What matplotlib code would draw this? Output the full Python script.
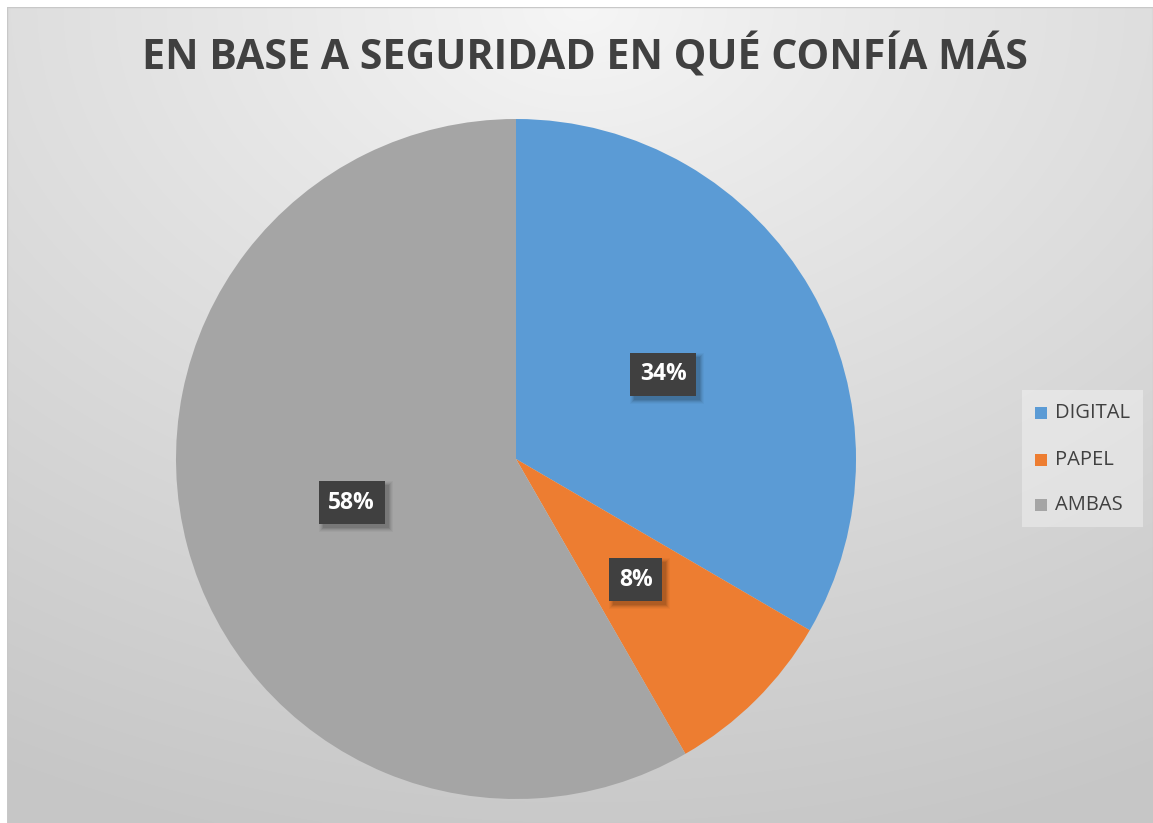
import numpy as np
import matplotlib
matplotlib.use("Agg")
import matplotlib.pyplot as plt
from matplotlib.patches import Rectangle

categories = ["DIGITAL", "PAPEL", "AMBAS"]
values = [33.4, 8.3, 58.3]
pct_labels = ["34%", "8%", "58%"]
colors = ["#5b9bd5", "#ed7d31", "#a5a5a5"]
title = "EN BASE A SEGURIDAD EN QUÉ CONFÍA MÁS"

W, H = 1153, 823
fig = plt.figure(figsize=(W / 100, H / 100), dpi=100)
fig.patch.set_facecolor("white")

# background with radial gradient
bg = fig.add_axes([7 / W, 0, (W - 7) / W, (H - 7) / H])
bg.set_axis_off()
yy, xx = np.mgrid[0:400, 0:560]
cx, cy = 280, 0
d = np.sqrt(((xx - cx) / 560.0) ** 2 + ((yy - cy) / 400.0) ** 2)
d = np.clip(d / 1.05, 0, 1)
val = 0.965 - (0.965 - 0.78) * d ** 0.9
img = np.dstack([val, val, val])
bg.imshow(img, extent=[0, 1, 0, 1], origin="upper", aspect="auto", interpolation="bilinear")
bg.set_xlim(0, 1)
bg.set_ylim(0, 1)
bg.add_patch(Rectangle((0, 0), 1, 1, fill=False, edgecolor="#c8c8c8", lw=1.0,
                       transform=bg.transAxes))

# pie
cxp, cyp, r = 516, 459, 340
ax = fig.add_axes([(cxp - r) / W, (H - cyp - r) / H, 2 * r / W, 2 * r / H])
ax.set_axis_off()
wedges, _ = ax.pie(values, colors=colors, startangle=90, counterclock=False,
                   radius=1.0, wedgeprops=dict(linewidth=0))
ax.set_xlim(-1, 1)
ax.set_ylim(-1, 1)
ax.set_aspect("auto")

texts = []
for w, lab in zip(wedges, pct_labels):
    ang = np.deg2rad((w.theta1 + w.theta2) / 2)
    x, y = 0.5 * np.cos(ang), 0.5 * np.sin(ang)
    t = ax.text(x, y, lab, ha="center", va="center", fontsize=16.5, fontweight="bold",
                family="Open Sans", color="white", zorder=5,
                bbox=dict(boxstyle="square,pad=0.42", fc="#404040", ec="none"))
    texts.append(t)

fig.canvas.draw()
renderer = fig.canvas.get_renderer()
for t in texts:
    bb = t.get_bbox_patch().get_window_extent(renderer)
    for k, a in [(8, 0.03), (6, 0.04), (4, 0.06), (2, 0.08), (0, 0.08)]:
        p = Rectangle((bb.x0 + 4 - k / 2, bb.y0 - 4 - k / 2),
                      bb.width + k, bb.height + k,
                      transform=matplotlib.transforms.IdentityTransform(),
                      fc=(0, 0, 0, a), ec="none", zorder=4)
        p.set_clip_on(False)
        ax.add_artist(p)

# title
fig.text(585 / W, 1 - 57 / H, title, ha="center", va="center", fontsize=29.6,
         fontweight="bold", family="Open Sans", color="#404040")

# legend
leg_ax = fig.add_axes([1022 / W, (H - 527) / H, 121 / W, 137 / H])
leg_ax.set_axis_off()
leg_ax.set_xlim(0, 121)
leg_ax.set_ylim(137, 0)
leg_ax.add_patch(Rectangle((0, 0), 121, 137, fc=(1, 1, 1, 0.35), ec="none"))
ys = [23, 70, 115]
for c, lab, yv in zip(colors, categories, ys):
    leg_ax.add_patch(Rectangle((13, yv - 6), 12, 12, fc=c, ec="none"))
    leg_ax.text(33, yv, lab, ha="left", va="center", fontsize=14.5,
                family="Open Sans", color="#404040")

fig.savefig("out.png", dpi=100, facecolor=fig.get_facecolor())
